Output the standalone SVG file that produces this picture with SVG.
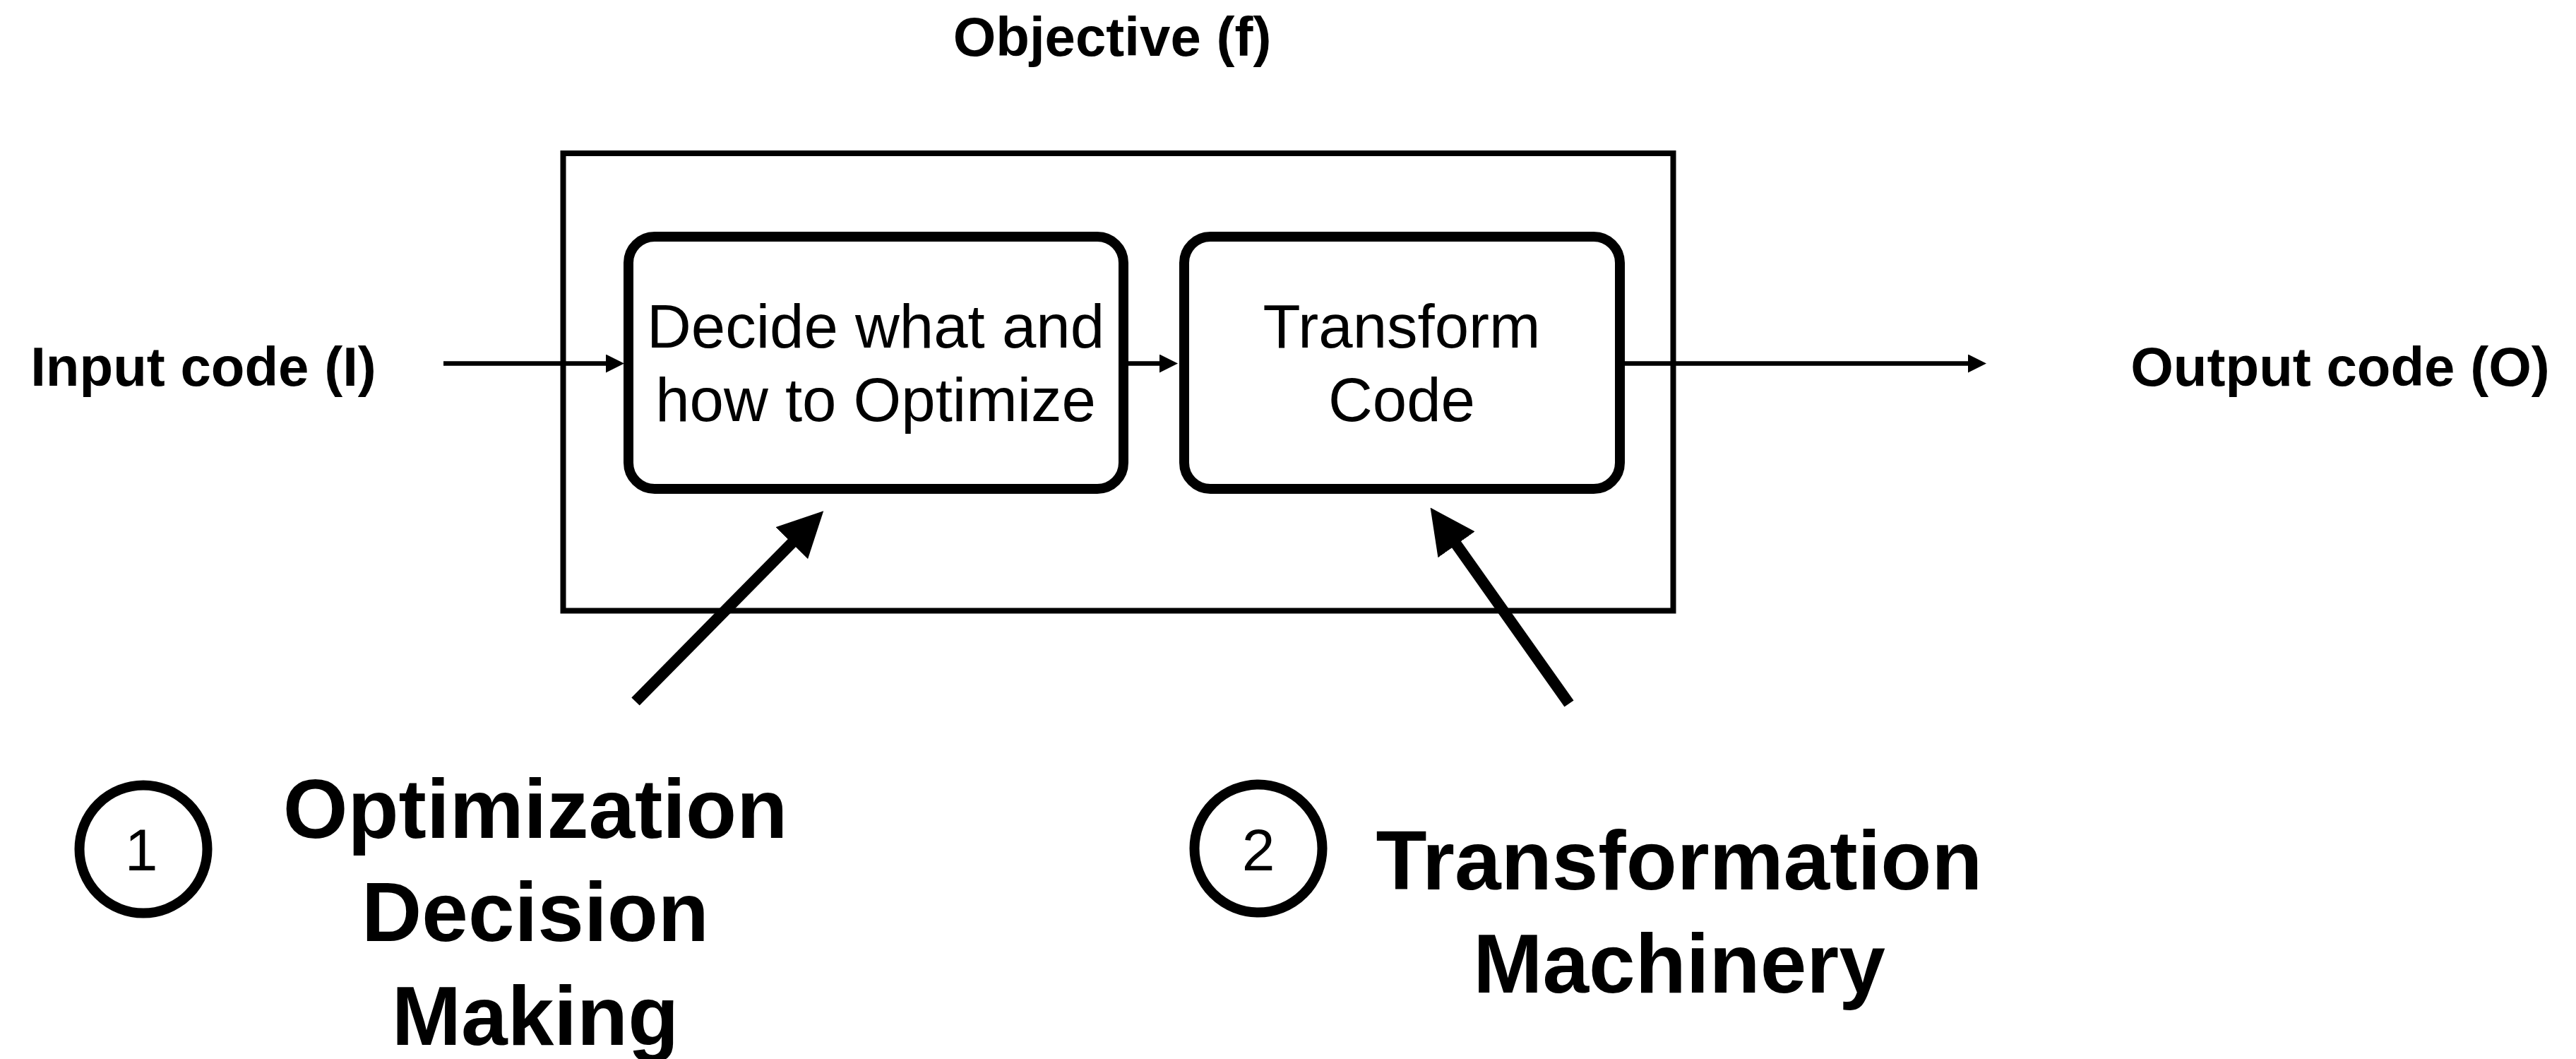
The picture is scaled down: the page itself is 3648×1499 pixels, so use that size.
<svg xmlns="http://www.w3.org/2000/svg" width="3648" height="1499" viewBox="0 0 3648 1499">
  <style>
    .bold { font-family: "Liberation Sans", Arial, sans-serif; font-weight: bold; fill: #000; text-anchor: middle; }
    .reg { font-family: "Liberation Sans", Arial, sans-serif; font-weight: normal; fill: #000; text-anchor: middle; }
    .lbl { font-size: 78px; }
    .big { font-size: 118px; }
    .boxtxt { font-size: 87px; }
    .num { font-size: 84px; }
    .box { fill: #fff; stroke: #000; stroke-width: 14; }
    .thin { stroke: #000; stroke-width: 6.5; fill: none; }
    .thick { stroke: #000; stroke-width: 16; fill: none; }
  </style>
  <defs>
    <marker id="ah" markerUnits="userSpaceOnUse" markerWidth="26" markerHeight="26" viewBox="0 0 26 26" refX="1" refY="13" orient="auto">
      <path d="M0,0 L26,13 L0,26 z" fill="#000"/>
    </marker>
    <marker id="bigah" markerUnits="userSpaceOnUse" markerWidth="64" markerHeight="64" viewBox="0 0 64 64" refX="1" refY="32" orient="auto">
      <path d="M0,0 L64,32 L0,64 z" fill="#000"/>
    </marker>
  </defs>
  <rect width="3648" height="1499" fill="#fff"/>

  <g id="objective-label">
    <text class="bold lbl" x="1575" y="79">Objective (f)</text>
  </g>
  <g id="container">
    <rect x="797.5" y="217" width="1572" height="647.5" fill="none" stroke="#000" stroke-width="8"/>
  </g>
  <g id="input-label">
    <text class="bold lbl" x="288" y="546">Input code (I)</text>
  </g>
  <g id="output-label">
    <text class="bold lbl" x="3314" y="546">Output code (O)</text>
  </g>
  <g id="decide-node">
    <rect class="box" x="890" y="335" width="701" height="357" rx="37" ry="37"/>
    <text class="reg boxtxt" x="1240" y="492">Decide what and</text>
    <text class="reg boxtxt" x="1240" y="596">how to Optimize</text>
  </g>
  <g id="transform-node">
    <rect class="box" x="1677" y="335" width="617" height="357" rx="37" ry="37"/>
    <text class="reg boxtxt" x="1985" y="492">Transform</text>
    <text class="reg boxtxt" x="1985" y="596">Code</text>
  </g>
  <g id="label-1">
    <circle cx="203" cy="1202" r="90.5" fill="none" stroke="#000" stroke-width="14"/>
    <text class="reg num" x="200" y="1232">1</text>
    <text class="bold big" x="758" y="1186">Optimization</text>
    <text class="bold big" x="758" y="1332">Decision</text>
    <text class="bold big" x="758" y="1479">Making</text>
  </g>
  <g id="label-2">
    <circle cx="1782" cy="1201" r="90.5" fill="none" stroke="#000" stroke-width="14"/>
    <text class="reg num" x="1782" y="1232">2</text>
    <text class="bold big" x="2378" y="1259">Transformation</text>
    <text class="bold big" x="2378" y="1405">Machinery</text>
  </g>

  <g id="connectors">
    <line class="thin" x1="628" y1="514.5" x2="859" y2="514.5" marker-end="url(#ah)"/>
    <line class="thin" x1="1597" y1="514.5" x2="1643" y2="514.5" marker-end="url(#ah)"/>
    <line class="thin" x1="2300" y1="514.5" x2="2788" y2="514.5" marker-end="url(#ah)"/>
    <line class="thick" x1="900" y1="993" x2="1122" y2="768" marker-end="url(#bigah)"/>
    <line class="thick" x1="2222" y1="996" x2="2062" y2="770" marker-end="url(#bigah)"/>
  </g>
</svg>
